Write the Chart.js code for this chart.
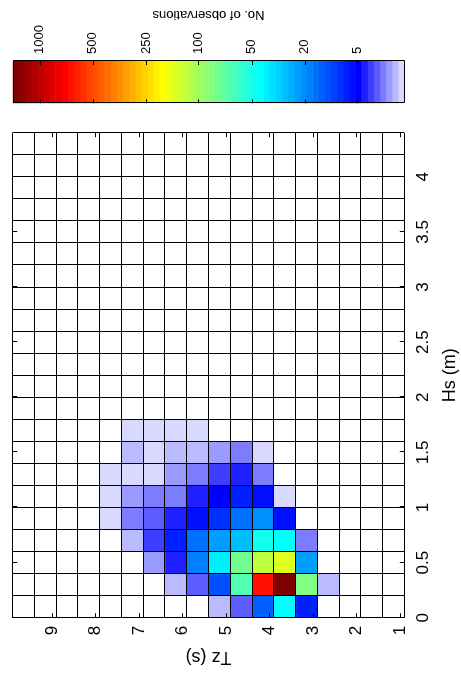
<!DOCTYPE html>
<html>
<head>
<meta charset="utf-8">
<script src="https://cdn.jsdelivr.net/npm/chart.js@4.4.1/dist/chart.umd.min.js"></script>
<style>
  html, body { margin: 0; padding: 0; background: #fff; overflow: hidden; }
  /* figure is laid out upright (673 x 461) and turned a quarter to fit the page */
  #figure { position: absolute; left: 0; top: 0; width: 673px; height: 461px;
            transform-origin: 0 0; transform: translate(0, 673px) rotate(-90deg); }
  #main { position: absolute; left: 0; top: 0; width: 560px; height: 461px; }
  #cbar { position: absolute; left: 560px; top: 0; width: 113px; height: 461px; }
</style>
</head>
<body>
<div id="figure">
  <canvas id="main" width="560" height="461"></canvas>
  <canvas id="cbar" width="113" height="461"></canvas>
</div>
<script>
// bin edges and axis ticks
const hsEdges = [0, 0.2, 0.4, 0.6, 0.8, 1, 1.2, 1.4, 1.6, 1.8, 2, 2.2, 2.4, 2.6, 2.8, 3, 3.2, 3.4, 3.6, 3.8, 4, 4.2, 4.4];
const tzEdges = [0.9, 1.4, 1.9, 2.4, 2.9, 3.4, 3.9, 4.4, 4.9, 5.4, 5.9, 6.4, 6.9, 7.4, 7.9, 8.4, 8.9, 9.4, 9.9];
const hsTicks = [0, 0.5, 1, 1.5, 2, 2.5, 3, 3.5, 4];
const tzTicks = [1, 2, 3, 4, 5, 6, 7, 8, 9];

// no. of observations, one row per Hs bin (from 0 m), one column per Tz bin (from 0.9 s)
// Hs bins above 1.8 m are empty
const obs = [
  [0, 0, 0, 0,   7,   43,  13, 2.6, 1.4,   0,   0,   0,   0, 0, 0, 0, 0, 0],
  [0, 0, 0, 1.4, 84, 1350, 660, 66,  11, 2.6, 1.4,   0,   0, 0, 0, 0, 0, 0],
  [0, 0, 0, 0,  23,  150, 120, 78,  38,  18,   4, 1.7,   0, 0, 0, 0, 0, 0],
  [0, 0, 0, 0,   2,   43,  48, 28,  23,  15,   7,   3, 1.4, 0, 0, 0, 0, 0],
  [0, 0, 0, 0,   0,    6,  21, 15,   8,   6,   4, 2.6,   2, 1, 0, 0, 0, 0],
  [0, 0, 0, 0,   0,    1,   6,  7,   5,   4,   2,   2, 1.7, 1, 0, 0, 0, 0],
  [0, 0, 0, 0,   0,    0,   2,  4,   3,   2, 1.7,   1,   1, 1, 0, 0, 0, 0],
  [0, 0, 0, 0,   0,    0,   1,  2, 1.7, 1.4, 1.4,   1, 1.4, 0, 0, 0, 0, 0],
  [0, 0, 0, 0,   0,    0,   0,  0,   0,   1,   1,   1,   1, 0, 0, 0, 0, 0]
];

// colour bar: labelled counts and where they sit on the 64-step colour scale
const cbTickValues = [5, 20, 50, 100, 250, 500, 1000];
const cbTickLevels = [7.68, 16.3, 24.96, 33.7, 42.2, 50.9, 59.6];
const nColours = 64;

Chart.defaults.font.family = '"Liberation Sans", Arial, sans-serif';
Chart.defaults.color = '#000';

// white-to-blue for the first 8 steps, then jet
function colourAt(k) {
  let r, g, b;
  if (k <= 8) { r = g = 0.85 * (8 - k) / 7; b = 1; }
  else if (k <= 24) { r = 0; g = (k - 8) / 16; b = 1; }
  else if (k <= 40) { r = (k - 24) / 16; g = 1; b = 1 - (k - 24) / 16; }
  else if (k <= 56) { r = 1; g = 1 - (k - 40) / 16; b = 0; }
  else { r = 1 - (k - 56) / 16; g = 0; b = 0; }
  return `rgb(${Math.round(r * 255)},${Math.round(g * 255)},${Math.round(b * 255)})`;
}

// count -> colour step (log interpolation between colour bar labels)
function levelOf(n) {
  const vs = [1].concat(cbTickValues), ps = [0].concat(cbTickLevels);
  let i = 0;
  while (i < vs.length - 2 && n > vs[i + 1]) i++;
  const p = ps[i] + (ps[i + 1] - ps[i]) * Math.log(n / vs[i]) / Math.log(vs[i + 1] / vs[i]);
  return Math.min(nColours, Math.max(1, Math.floor(p) + 1));
}

const cells = [], cellColours = [];
obs.forEach((row, i) => row.forEach((n, j) => {
  if (!n) return;
  cells.push({ x: (hsEdges[i] + hsEdges[i + 1]) / 2, y: [tzEdges[j], tzEdges[j + 1]] });
  cellColours.push(colourAt(levelOf(n)));
}));

// keep label overhang from pushing the plot area around
function fixSize(s, w, h) {
  if (w !== null) s.width = w;
  if (h !== null) s.height = h;
  s.paddingTop = s.paddingBottom = s.paddingLeft = s.paddingRight = 0;
}

// inward tick marks on both sides + optional frame
const innerTicks = {
  id: 'innerTicks',
  afterDraw(chart, args, opts) {
    const { ctx, chartArea: a } = chart;
    const L = opts.length || 4;
    ctx.save();
    ctx.strokeStyle = '#000';
    ctx.lineWidth = 1;
    ctx.beginPath();
    (opts.axes || []).forEach(id => {
      const s = chart.scales[id];
      s.ticks.forEach(t => {
        const p = Math.round(s.getPixelForValue(t.value)) + 0.5;
        if (s.isHorizontal()) {
          ctx.moveTo(p, a.bottom); ctx.lineTo(p, a.bottom - L);
          ctx.moveTo(p, a.top); ctx.lineTo(p, a.top + L);
        } else {
          ctx.moveTo(a.left, p); ctx.lineTo(a.left + L, p);
          ctx.moveTo(a.right, p); ctx.lineTo(a.right - L, p);
        }
      });
    });
    if (opts.frame) {
      ctx.rect(Math.round(a.left) + 0.5, Math.round(a.top) + 0.5,
               Math.round(a.right) - Math.round(a.left), Math.round(a.bottom) - Math.round(a.top));
    }
    ctx.stroke();
    ctx.restore();
  }
};

const gridScale = (axis, pos, edges, lo, hi) => ({
  type: 'linear', axis: axis, position: pos, min: lo, max: hi, offset: false,
  afterBuildTicks: s => { s.ticks = edges.map(v => ({ value: v })); },
  afterFit: s => fixSize(s, axis === 'x' ? null : 0, axis === 'x' ? 0 : null),
  ticks: { display: false },
  border: { display: false },
  grid: { display: true, color: '#000', lineWidth: 1, drawTicks: false, offset: false, z: 1 }
});

new Chart(document.getElementById('main'), {
  type: 'bar',
  data: {
    datasets: [{
      data: cells,
      backgroundColor: cellColours,
      borderWidth: 0,
      barPercentage: 1,
      categoryPercentage: 1,
      xAxisID: 'x',
      yAxisID: 'y'
    }]
  },
  options: {
    responsive: false,
    animation: false,
    devicePixelRatio: 1,
    layout: { padding: { top: 12.7, right: 19.7, left: 0, bottom: 0 } },
    plugins: {
      legend: { display: false },
      tooltip: { enabled: false },
      innerTicks: { axes: ['x', 'y'], length: 4.5 }
    },
    scales: {
      x: {
        type: 'linear', position: 'bottom', min: 0, max: 4.4, offset: false,
        afterBuildTicks: s => { s.ticks = hsTicks.map(v => ({ value: v })); },
        afterFit: s => fixSize(s, null, 56.7),
        grid: { display: false, drawTicks: false, offset: false },
        border: { display: false },
        ticks: { autoSkip: false, maxRotation: 0, padding: 9, font: { size: 17 }, callback: v => String(v) },
        title: { display: true, text: 'Hs (m)', font: { size: 18 }, padding: { top: 0, bottom: 0 } }
      },
      y: {
        type: 'linear', position: 'left', min: 0.9, max: 9.9, offset: false,
        afterBuildTicks: s => { s.ticks = tzTicks.map(v => ({ value: v })); },
        afterFit: s => fixSize(s, 55.3, null),
        grid: { display: false, drawTicks: false, offset: false },
        border: { display: false },
        ticks: { autoSkip: false, padding: 8, font: { size: 17 }, callback: v => String(v) },
        title: { display: true, text: 'Tz (s)', font: { size: 18 }, padding: { top: 5, bottom: 0 } }
      },
      xg: gridScale('x', 'bottom', hsEdges, 0, 4.4),
      yg: gridScale('y', 'left', tzEdges, 0.9, 9.9)
    }
  },
  plugins: [innerTicks]
});

// colour bar
const cbLevels = Array.from({ length: nColours }, (_, k) => k + 1);

const cbarTitle = {
  id: 'cbarTitle',
  afterDraw(chart) {
    const { ctx, chartArea: a } = chart;
    ctx.save();
    ctx.translate(98, (a.top + a.bottom) / 2);
    ctx.rotate(-Math.PI / 2);
    ctx.font = '13px "Liberation Sans", Arial, sans-serif';
    ctx.fillStyle = '#000';
    ctx.textAlign = 'center';
    ctx.textBaseline = 'middle';
    ctx.fillText('No. of observations', 0, 0);
    ctx.restore();
  }
};

new Chart(document.getElementById('cbar'), {
  type: 'bar',
  data: {
    labels: ['colour'],
    datasets: [{
      data: cbLevels.map(k => ({ x: 'colour', y: [k - 1, k] })),
      backgroundColor: cbLevels.map(colourAt),
      borderWidth: 0,
      barPercentage: 1,
      categoryPercentage: 1
    }]
  },
  options: {
    responsive: false,
    animation: false,
    devicePixelRatio: 1,
    layout: { padding: { top: 12.7, right: 0, left: 9.7, bottom: 56.7 } },
    plugins: {
      legend: { display: false },
      tooltip: { enabled: false },
      innerTicks: { axes: ['y'], length: 4, frame: true }
    },
    scales: {
      x: { type: 'category', display: false },
      y: {
        type: 'linear', position: 'right', min: 0, max: nColours, offset: false,
        afterBuildTicks: s => { s.ticks = cbTickLevels.map(v => ({ value: v })); },
        afterFit: s => fixSize(s, 61, null),
        grid: { display: false, drawTicks: false },
        border: { display: false },
        ticks: { autoSkip: false, padding: 7, font: { size: 13 }, callback: (v, i) => String(cbTickValues[i]) }
      }
    }
  },
  plugins: [innerTicks, cbarTitle]
});
</script>
</body>
</html>
